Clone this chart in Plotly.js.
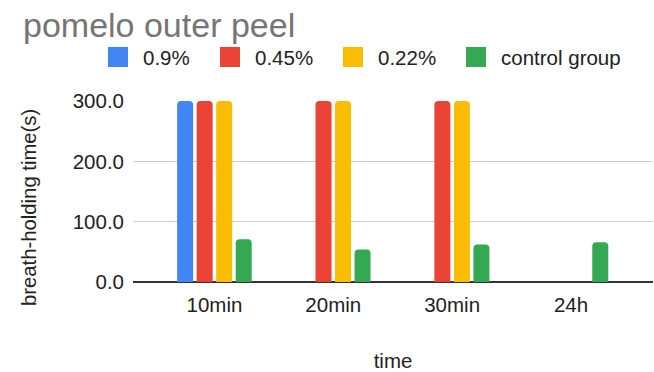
<!DOCTYPE html>
<html>
<head>
<meta charset="utf-8">
<script src="https://cdn.plot.ly/plotly-3.0.1.min.js"></script>
<style>
  html, body { margin: 0; padding: 0; background: #ffffff; }
  #chart { width: 654px; height: 372px; }
</style>
</head>
<body>
<div id="chart"></div>
<script>
// Breath-holding time per concentration at each time point
const categories = ['10min', '20min', '30min', '24h'];
const seriesNames = ['0.9%', '0.45%', '0.22%', 'control group'];
const conc090 = [300, null, null, null];
const conc045 = [300, 300, 300, null];
const conc022 = [300, 300, 300, null];
const control = [71, 54, 62, 66];
const yTicks = [0, 100, 200, 300];

const seriesValues = [conc090, conc045, conc022, control];
const colors = ['#4285F4', '#EA4335', '#FBBC04', '#34A853'];

const FONT = 'Liberation Sans, Arial, sans-serif';
const TEXT = '#222222';

const traces = seriesValues.map((vals, i) => ({
  type: 'bar',
  name: seriesNames[i],
  x: categories,
  y: vals,
  marker: { color: colors[i] },
  showlegend: false,
  hoverinfo: 'x+y+name'
}));

// Legend row drawn as swatches + labels (pixel offsets from the plot's top-left corner)
const swatchLeft = [108, 220, 343, 466];   // px from page left
const plotLeft = 133, plotTop = 101;
const swatchTop = 47, swatchSize = 20, labelGap = 15;

const shapes = swatchLeft.map((sx, i) => ({
  type: 'rect',
  xref: 'paper', yref: 'paper',
  xsizemode: 'pixel', ysizemode: 'pixel',
  xanchor: 0, yanchor: 1,
  x0: sx - plotLeft, x1: sx - plotLeft + swatchSize,
  y0: plotTop - swatchTop - swatchSize, y1: plotTop - swatchTop,
  fillcolor: colors[i],
  line: { width: 0 }
}));

const annotations = swatchLeft.map((sx, i) => ({
  xref: 'paper', yref: 'paper', x: 0, y: 1,
  xanchor: 'left', yanchor: 'middle',
  xshift: sx - plotLeft + swatchSize + labelGap - 2,
  yshift: plotTop - (swatchTop + swatchSize / 2),
  text: seriesNames[i],
  showarrow: false,
  font: { family: FONT, size: 20.5, color: TEXT }
}));

// Y-axis title, centred a little below the middle of the plot
annotations.push({
  xref: 'paper', yref: 'paper', x: 0, y: 0.5,
  xanchor: 'center', yanchor: 'middle',
  xshift: 28.5 - plotLeft,
  yshift: -16,
  textangle: -90,
  text: 'breath-holding time(s)',
  showarrow: false,
  font: { family: FONT, size: 20.3, color: TEXT }
});

const layout = {
  width: 654,
  height: 372,
  margin: { l: 133, r: 1, t: 101, b: 90, pad: 0 },
  paper_bgcolor: '#ffffff',
  plot_bgcolor: '#ffffff',
  font: { family: FONT, size: 20.5, color: TEXT },
  title: {
    text: 'pomelo outer peel',
    font: { family: FONT, size: 34, color: '#757575' },
    x: 23 / 654, xanchor: 'left',
    xref: 'container', yref: 'container',
    y: 1 - 13 / 372, yanchor: 'top'
  },
  barmode: 'group',
  bargap: 0.343,
  bargroupgap: 0.18,
  barcornerradius: 4,
  xaxis: {
    type: 'category',
    range: [-0.685, 3.69],
    showgrid: false,
    showline: false,
    zeroline: false,
    ticks: '',
    ticklabelstandoff: 8,
    tickfont: { family: FONT, size: 20.5, color: TEXT },
    title: {
      text: 'time',
      font: { family: FONT, size: 20.5, color: TEXT },
      standoff: 42
    },
    fixedrange: true
  },
  yaxis: {
    range: [0, 300],
    tickvals: yTicks,
    tickformat: '.1f',
    showgrid: true,
    gridcolor: '#cccccc',
    gridwidth: 1,
    zeroline: true,
    zerolinecolor: '#333333',
    zerolinewidth: 1.5,
    showline: false,
    ticks: '',
    ticklabelstandoff: 8,
    tickfont: { family: FONT, size: 20.5, color: TEXT },
    fixedrange: true
  },
  shapes: shapes,
  annotations: annotations
};

Plotly.newPlot('chart', traces, layout, { displayModeBar: false, staticPlot: true });
</script>
</body>
</html>
